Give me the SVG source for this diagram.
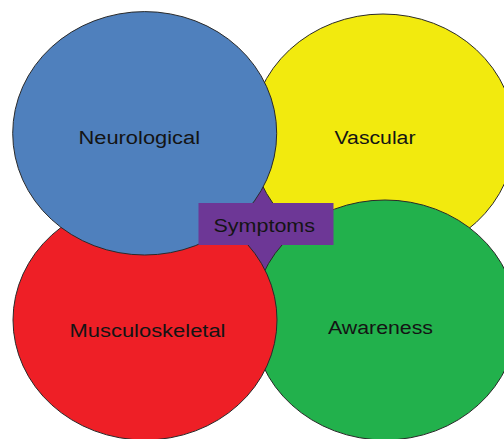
<svg xmlns="http://www.w3.org/2000/svg" width="504" height="439" viewBox="0 0 504 439">
<style>
.c{stroke:#2a2a2a;stroke-width:1}
.t{font-family:"Liberation Sans","Open Sans",sans-serif;font-size:18px;fill:#141414;text-anchor:start}
</style>
<rect width="504" height="439" fill="#ffffff"/>
<g id="center-fill">
<polygon points="263,175 345,225 263,280 185,225" fill="#6d3796"/>
</g>
<g id="vascular">
<ellipse class="c" cx="383" cy="136" rx="132" ry="122" fill="#f2ea0e"/>
<text class="t" x="334.5" y="143.5" textLength="81" lengthAdjust="spacingAndGlyphs">Vascular</text>
</g>
<g id="awareness">
<ellipse class="c" cx="385" cy="320" rx="132" ry="120" fill="#22b14c"/>
<text class="t" x="328" y="334" textLength="105" lengthAdjust="spacingAndGlyphs">Awareness</text>
</g>
<g id="musculoskeletal">
<ellipse class="c" cx="145" cy="320" rx="132" ry="120" fill="#ee1f26"/>
<text class="t" x="69.5" y="337" textLength="156" lengthAdjust="spacingAndGlyphs">Musculoskeletal</text>
</g>
<g id="neurological">
<ellipse class="c" cx="144.7" cy="133.3" rx="132" ry="121.7" fill="#4f80bd"/>
<text class="t" x="78.5" y="143.5" textLength="121.5" lengthAdjust="spacingAndGlyphs">Neurological</text>
</g>
<g id="symptoms">
<rect x="198.5" y="203" width="135" height="42" fill="#6d3796"/>
<text class="t" x="213.5" y="231.5" textLength="101.5" lengthAdjust="spacingAndGlyphs">Symptoms</text>
</g>
<g id="connectors"></g>
</svg>
